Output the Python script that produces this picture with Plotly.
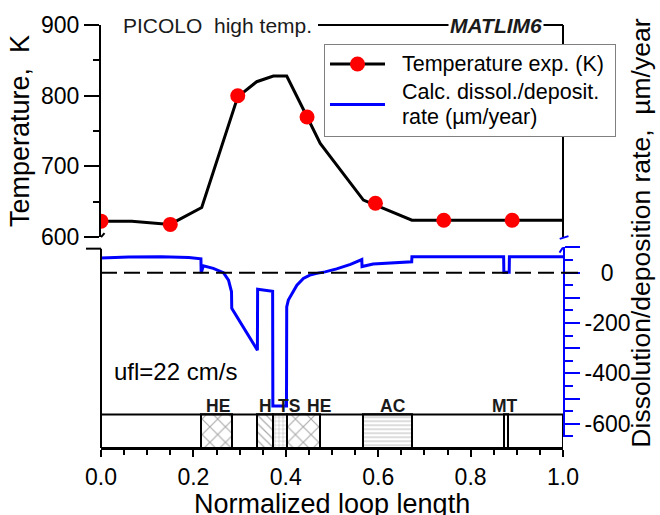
import plotly.graph_objects as go

FONT = "Arial, 'Liberation Sans', sans-serif"

# ---- data ----
temp_line_x = [0.0, 0.0665, 0.1495, 0.218, 0.296, 0.337, 0.373, 0.402, 0.446, 0.4745, 0.568, 0.673, 1.0]
temp_line_y = [622.6, 622.6, 618, 642, 798.5, 819.8, 827.8, 827.8, 770.2, 732.6, 652.4, 624, 624]

temp_exp_x = [0.0, 0.15, 0.296, 0.446, 0.594, 0.742, 0.89]
temp_exp_y = [622.6, 618, 800, 770, 648, 624, 624]

rate_x = [0.0, 0.06, 0.13, 0.19, 0.2163, 0.2168, 0.2215, 0.243, 0.265, 0.276, 0.2825, 0.283,
          0.3385, 0.339, 0.3715, 0.372, 0.4015, 0.402, 0.4055, 0.413, 0.424, 0.438, 0.452,
          0.467, 0.485, 0.51, 0.54, 0.5645, 0.565, 0.589, 0.6725, 0.673, 0.8715, 0.872,
          0.8835, 0.884, 1.0]
rate_y = [58, 62, 63, 60, 55, -2, 27, 17, 0, -30, -76, -142,
          -308, -66, -74, -530, -530, -136, -109, -83, -50, -23, -10,
          -3, 3, 15, 33, 52, 24, 34, 43, 63, 63, 2,
          2, 63, 63]

comp_names = ["HE", "H", "TS", "HE", "AC", "MT"]
comp_start = [0.2167, 0.337, 0.373, 0.402, 0.567, 0.8717]
comp_end = [0.2833, 0.373, 0.402, 0.473, 0.673, 0.881]
comp_pattern = ["x", "\\", "+", "x", "-", ""]
comp_label_x = [0.253, 0.355, 0.407, 0.472, 0.632, 0.874]

temp_ticks = [600, 700, 800, 900]
rate_tickvals = [-600, -500, -400, -300, -200, -100, 0, 100]
rate_ticktext = ["-600", "", "-400", "", "-200", "", "\u2002\u20090", ""]
rate_minor = [-650, -550, -450, -350, -250, -150, -50, 50]

# ---- geometry (paper fractions) ----
W, H = 660, 515
L, R, T, B = 101, 97, 25, 67.3
PW, PH = W - L - R, H - T - B


def px(xpix):
    return (xpix - L) / PW


def py(ypix):
    return (H - B - ypix) / PH


STRIP_TOP = 1.1  # strip axis range top (boxes span 0..1)
LEG_SPAN = "<span style='font-size:21.5px'>%s</span>"

fig = go.Figure()

fig.add_trace(go.Scatter(x=temp_line_x, y=temp_line_y, mode="lines",
                         line=dict(color="black", width=3), showlegend=False,
                         yaxis="y", hoverinfo="skip"))
fig.add_trace(go.Scatter(x=temp_exp_x, y=temp_exp_y, mode="markers",
                         marker=dict(color="#ff0000", size=15), showlegend=False,
                         yaxis="y"))
fig.add_trace(go.Scatter(x=[None], y=[None], mode="lines+markers",
                         line=dict(color="black", width=3),
                         marker=dict(color="#ff0000", size=15),
                         name=LEG_SPAN % "\u00a0\u00a0Temperature exp. (K)\u00a0", yaxis="y"))
fig.add_trace(go.Scatter(x=rate_x, y=rate_y, mode="lines",
                         line=dict(color="#0000ff", width=3),
                         name=(LEG_SPAN % "\u00a0\u00a0Calc. dissol./deposit.") + "<br>"
                         + (LEG_SPAN % "\u00a0\u00a0rate (µm/year)"),
                         yaxis="y2"))
fig.add_trace(go.Bar(
    x=[(s + e) / 2 for s, e in zip(comp_start, comp_end)],
    y=[1] * len(comp_names),
    width=[e - s for s, e in zip(comp_start, comp_end)],
    base=0, yaxis="y3", showlegend=False, cliponaxis=False,
    marker=dict(color="white", line=dict(color="black", width=2),
                pattern=dict(shape=comp_pattern, fgcolor="#555555", bgcolor="white",
                             size=[11, 6, 4, 11, 4, 8], solidity=0.2)),
    hoverinfo="skip"))

tickfont = dict(family=FONT, size=23, color="black")

shapes = [
    dict(type="line", xref="x", yref="y2", x0=0, x1=1, y0=0, y1=0,
         line=dict(color="black", width=2, dash="16px,7px"), layer="above"),
    dict(type="line", xref="paper", yref="y2", x0=1, x1=px(578), y0=0, y1=0,
         line=dict(color="black", width=2), layer="above"),
    dict(type="rect", xref="x", yref="y3", x0=0, x1=1, y0=0, y1=1,
         line=dict(color="black", width=2), layer="above"),
    dict(type="line", xref="paper", yref="paper", x0=0, x1=0, y0=0, y1=py(248.5),
         line=dict(color="black", width=2)),
    dict(type="line", xref="paper", yref="paper", x0=px(86), x1=0, y0=py(248.5), y1=py(248.5),
         line=dict(color="black", width=2)),
    dict(type="line", xref="paper", yref="paper", x0=px(101), x1=px(104.5), y0=py(237), y1=py(233),
         line=dict(color="black", width=2)),
    dict(type="line", xref="paper", yref="paper", x0=px(318), x1=1, y0=1, y1=1,
         line=dict(color="black", width=2)),
    dict(type="line", xref="paper", yref="paper", x0=1, x1=1, y0=py(237), y1=1,
         line=dict(color="black", width=2)),
    dict(type="line", xref="paper", yref="paper", x0=px(559.7), x1=px(568.5), y0=py(238.7), y1=py(236),
         line=dict(color="#0000ff", width=2)),
    dict(type="line", xref="paper", yref="paper", x0=1, x1=px(559.5), y0=py(247.3), y1=py(252.5),
         line=dict(color="#0000ff", width=2)),
]

annotations = [
    dict(text="PICOLO\u00a0 high temp.", xref="paper", yref="paper", x=px(121), y=1,
         xanchor="left", yanchor="middle", showarrow=False,
         font=dict(family=FONT, size=21, color="#1a1a1a")),
    dict(text="<b><i>MATLIM6</i></b>", xref="paper", yref="paper", x=px(495.5), y=1,
         xanchor="center", yanchor="middle", showarrow=False, bgcolor="white",
         font=dict(family=FONT, size=21, color="#1a1a1a")),
    dict(text="ufl=22 cm/s", xref="paper", yref="paper", x=px(112), y=py(371.7),
         xanchor="left", yanchor="middle", showarrow=False,
         font=dict(family=FONT, size=24, color="black")),
    dict(text="Dissolution/deposition rate,\u00a0 µm/year", xref="paper", yref="paper",
         x=px(641), y=py(233.5), xanchor="center", yanchor="middle", textangle=-90,
         showarrow=False, font=dict(family=FONT, size=26.5, color="black")),
    dict(text="Normalized loop length", xref="paper", yref="paper",
         x=0.5, y=py(504), xanchor="center", yanchor="middle",
         showarrow=False, font=dict(family=FONT, size=27, color="black")),
]
for name, xc in zip(comp_names, comp_label_x):
    annotations.append(dict(text="<b>%s</b>" % name, xref="x", yref="y3", x=xc, y=1,
                            xanchor="center", yanchor="bottom", yshift=-3, showarrow=False,
                            font=dict(family=FONT, size=17.5, color="#1a1a1a")))

strip_h = STRIP_TOP * (H - B - 414.3) / PH

fig.update_layout(
    width=W, height=H,
    margin=dict(l=L, r=R, t=T, b=B, pad=0, autoexpand=False),
    paper_bgcolor="white", plot_bgcolor="rgba(0,0,0,0)",
    font=dict(family=FONT, color="black"),
    xaxis=dict(domain=[0, 1], range=[0, 1], anchor="y3", automargin=False,
               showline=True, linecolor="black", linewidth=2, mirror=False,
               ticks="outside", ticklen=7, tickwidth=2, tickcolor="black",
               tickmode="linear", tick0=0, dtick=0.2, tickformat=".1f",
               minor=dict(dtick=0.05, ticks="outside", ticklen=5, tickwidth=2, tickcolor="black"),
               showgrid=False, zeroline=False, tickfont=tickfont),
    yaxis=dict(domain=[py(237), 1], range=[600, 900], anchor="x", side="left", automargin=False,
               showline=True, linecolor="black", linewidth=2,
               ticks="outside", ticklen=15, tickwidth=2, tickcolor="black",
               tickmode="array", tickvals=temp_ticks,
               minor=dict(dtick=50, tick0=600, ticks="outside", ticklen=6, tickwidth=2, tickcolor="black"),
               showgrid=False, zeroline=False, tickfont=tickfont,
               title=dict(text="Temperature,\u00a0 K", font=dict(family=FONT, size=27), standoff=4)),
    yaxis2=dict(domain=[py(437), py(247.3)], range=[-654, 100], anchor="x", side="right",
                automargin=False,
                showline=True, linecolor="#0000ff", linewidth=2,
                ticks="outside", ticklen=15, tickwidth=2, tickcolor="#0000ff",
                tickmode="array", tickvals=rate_tickvals, ticktext=rate_ticktext,
                minor=dict(tickmode="array", tickvals=rate_minor, ticks="outside",
                           ticklen=8, tickwidth=2, tickcolor="#0000ff"),
                showgrid=False, zeroline=False, tickfont=tickfont),
    yaxis3=dict(domain=[0, strip_h], range=[0, STRIP_TOP], anchor="x", visible=False),
    legend=dict(x=px(324), y=py(44), xanchor="left", yanchor="top",
                bgcolor="white", bordercolor="#808080", borderwidth=1,
                font=dict(family=FONT, size=19.2, color="black"),
                itemwidth=55, tracegroupgap=0),
    shapes=shapes, annotations=annotations,
    bargap=0,
)

fig.write_html("out.html", config={"displayModeBar": False},
               post_script="document.body.style.margin='0px';")
